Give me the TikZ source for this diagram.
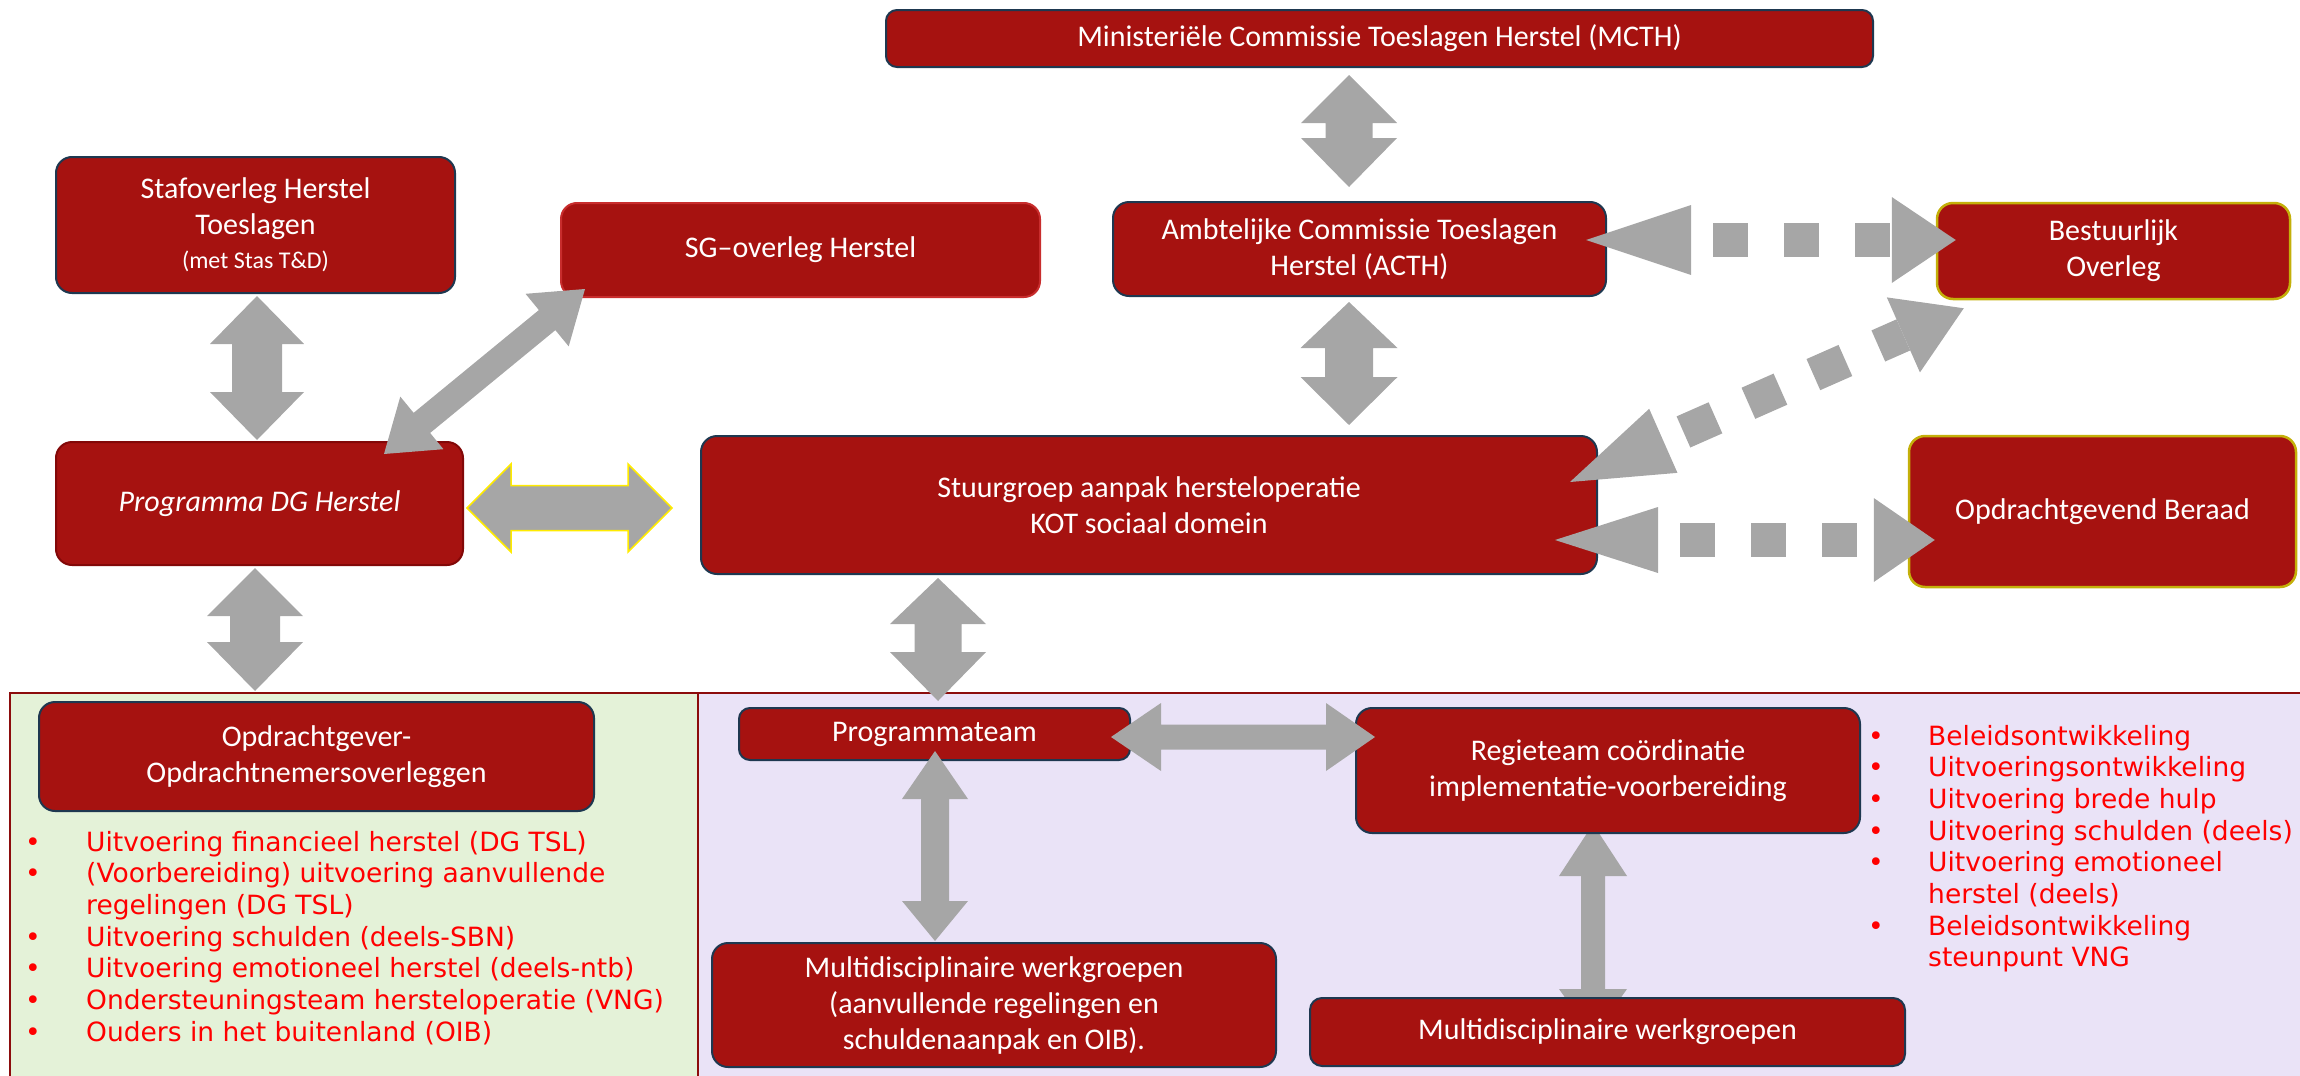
\documentclass[tikz,border=0pt]{standalone}
\usepackage{fontspec}
\setmainfont{Carlito}
\newfontfamily\listfont{DejaVu Sans}
\usetikzlibrary{calc}
\pgfdeclarelayer{panel}
\pgfdeclarelayer{under}
\pgfsetlayers{panel,under,main}
\definecolor{boxred}{RGB}{166,18,16}
\definecolor{slate}{RGB}{30,56,80}
\definecolor{olive}{RGB}{196,176,10}
\definecolor{lightred}{RGB}{200,45,45}
\definecolor{darkred}{RGB}{130,8,8}
\definecolor{arrowgray}{RGB}{166,166,166}
\definecolor{panelred}{RGB}{140,12,12}
\definecolor{greenbg}{RGB}{228,242,216}
\definecolor{purplebg}{RGB}{234,227,247}
\definecolor{listred}{RGB}{255,0,0}
\definecolor{arrowyellow}{RGB}{255,235,0}

\tikzset{
  box/.style={draw=slate, line width=2pt, fill=boxred, rounded corners=16pt,
    text=white, align=center, inner sep=0pt,
    font=\fontsize{30pt}{36pt}\selectfont},
  redbox/.style={box, draw=lightred},
  dredbox/.style={box, draw=darkred},
  olivebox/.style={box, draw=olive, line width=2.5pt},
  listnode/.style={inner sep=0pt, text=listred,
    font=\listfont\fontsize{26.5pt}{31.7pt}\selectfont},
  panelline/.style={draw=panelred, line width=2.5pt},
}

% solid block double arrow: [style]{A}{B}{body half}{head half}{head len A}{head len B}
\newcommand{\dblarrow}[7][]{%
  \path (#2) coordinate (qA) (#3) coordinate (qB);
  \path ($(qA)!#6!(qB)$) coordinate (qa) ($(qB)!#7!(qA)$) coordinate (qb);
  \path[fill=arrowgray,#1] (qA) -- ($(qa)!#5!90:(qB)$) -- ($(qa)!#4!90:(qB)$)
    -- ($(qb)!#4!-90:(qA)$) -- ($(qb)!#5!-90:(qA)$) -- (qB)
    -- ($(qb)!#5!90:(qA)$) -- ($(qb)!#4!90:(qA)$)
    -- ($(qa)!#4!-90:(qB)$) -- ($(qa)!#5!-90:(qB)$) -- cycle;
}
% dashed double arrow: {A}{B}{dash width}{start head half}{start head len}{end head half}{end head len}
\newcommand{\mydashed}[7]{%
  \path (#1) coordinate (qA) (#2) coordinate (qB);
  \path ($(qA)!#5!(qB)$) coordinate (qa) ($(qB)!#7!(qA)$) coordinate (qb);
  \fill[arrowgray] (qA) -- ($(qa)!#4!90:(qB)$) -- ($(qa)!#4!-90:(qB)$) -- cycle;
  \fill[arrowgray] (qB) -- ($(qb)!#6!90:(qA)$) -- ($(qb)!#6!-90:(qA)$) -- cycle;
  \draw[arrowgray, line width=#3, dash pattern=on 35pt off 36pt, dash phase=49pt] (qa) -- (qb);
}

\begin{document}
\begin{tikzpicture}[x=1pt, y=-1pt]
\useasboundingbox (0,0) rectangle (2300,1076);

% lower panel
\begin{pgfonlayer}{panel}
  \fill[greenbg] (10,693) rectangle (698,1076);
  \fill[purplebg] (698,693) rectangle (2300,1076);
  \draw[panelline] (10,1076) -- (10,693) -- (2300,693);
  \draw[panelline] (698,693) -- (698,1076);
\end{pgfonlayer}

% boxes
\node[box, minimum width=399pt, minimum height=136pt] (staf) at (255.5,225)
  {Stafoverleg Herstel\\Toeslagen\\[-2pt]{\fontsize{24pt}{29pt}\selectfont (met Stas T\&D)}};
\node[redbox, minimum width=479pt, minimum height=94pt] (sg) at (800.5,250) {SG–overleg Herstel};
\node[box, rounded corners=11pt, minimum width=987pt, minimum height=57pt] (mcth) at (1379.5,38.5)
  {Ministeriële Commissie Toeslagen Herstel (MCTH)};
\node[box, minimum width=493pt, minimum height=94pt] (acth) at (1359.5,249)
  {Ambtelijke Commissie Toeslagen\\Herstel (ACTH)};
\node[olivebox, minimum width=353pt, minimum height=96pt] (best) at (2113.5,251)
  {Bestuurlijk\\Overleg};
\node[dredbox, minimum width=407pt, minimum height=123pt] (prog) at (259.5,503.5)
  {\itshape Programma DG Herstel};
\node[box, minimum width=896pt, minimum height=138pt] (stuur) at (1149,505)
  {Stuurgroep aanpak hersteloperatie\\KOT sociaal domein};
\node[olivebox, minimum width=387pt, minimum height=151pt] (opgb) at (2102.5,511.5)
  {Opdrachtgevend Beraad};
\node[box, minimum width=555pt, minimum height=109pt] (ogon) at (316.5,756.5)
  {Opdrachtgever-\\Opdrachtnemersoverleggen};
\node[box, rounded corners=11pt, minimum width=391pt, minimum height=52pt] (pteam) at (934.5,734)
  {Programmateam};
\node[box, minimum width=504pt, minimum height=125pt] (regie) at (1608,770.5)
  {Regieteam coördinatie\\implementatie-voorbereiding};
\node[box, minimum width=564pt, minimum height=124pt] (mw1) at (994,1005)
  {Multidisciplinaire werkgroepen\\(aanvullende regelingen en\\schuldenaanpak en OIB).};
\node[box, rounded corners=12pt, minimum width=595pt, minimum height=68pt] (mw2) at (1607.5,1032)
  {Multidisciplinaire werkgroepen};

% red lists
\node[listnode, anchor=base west] (llist) at (25,851) {%
\begin{tabular}[t]{@{}l@{}l@{}}
\makebox[61pt][l]{\textbullet} & Uitvoering financieel herstel (DG TSL)\\
\makebox[61pt][l]{\textbullet} & (Voorbereiding) uitvoering aanvullende\\
 & regelingen (DG TSL)\\
\makebox[61pt][l]{\textbullet} & Uitvoering schulden (deels-SBN)\\
\makebox[61pt][l]{\textbullet} & Uitvoering emotioneel herstel (deels-ntb)\\
\makebox[61pt][l]{\textbullet} & Ondersteuningsteam hersteloperatie (VNG)\\
\makebox[61pt][l]{\textbullet} & Ouders in het buitenland (OIB)
\end{tabular}};
\node[listnode, anchor=base west] (rlist) at (1868,745) {%
\begin{tabular}[t]{@{}l@{}l@{}}
\makebox[60pt][l]{\textbullet} & Beleidsontwikkeling\\
\makebox[60pt][l]{\textbullet} & Uitvoeringsontwikkeling\\
\makebox[60pt][l]{\textbullet} & Uitvoering brede hulp\\
\makebox[60pt][l]{\textbullet} & Uitvoering schulden (deels)\\
\makebox[60pt][l]{\textbullet} & Uitvoering emotioneel\\
 & herstel (deels)\\
\makebox[60pt][l]{\textbullet} & Beleidsontwikkeling\\
 & steunpunt VNG
\end{tabular}};

% solid arrows
\dblarrow{$(staf.south)+(1.5,2)$}{$(prog.north)+(-2.5,-1)$}{25pt}{47pt}{48pt}{48pt}
\dblarrow[draw=arrowyellow, line width=1.5pt]{$(prog.east)+(3,4.5)$}{$(stuur.west)+(-28,3)$}{22.5pt}{44pt}{44pt}{44pt}
\dblarrow{$(prog.north)+(124.5,13)$}{$(sg.south west)+(25,-9)$}{13pt}{34pt}{49pt}{49pt}
\dblarrow{$(prog.south)+(-4.5,2)$}{$(ogon.north)+(-61.5,-10)$}{25pt}{48pt}{48pt}{49pt}
\dblarrow{$(mcth.south)+(-30.5,7)$}{$(acth.north)+(-10.5,-14)$}{23.5pt}{48pt}{48pt}{49pt}
\dblarrow{$(acth.south)+(-10.5,5)$}{$(stuur.north)+(200,-10)$}{24pt}{48.5pt}{46pt}{48pt}
\dblarrow{$(stuur.south)+(-211,3)$}{$(pteam.north)+(3.5,-6)$}{23.5pt}{48pt}{46pt}{49pt}
\dblarrow{$(pteam.east)+(-20,3)$}{$(regie.west)+(20,-33.5)$}{12.5pt}{34pt}{50pt}{49pt}
\dblarrow{$(pteam.south)+(0.5,-10)$}{$(mw1.north)+(-59,-1)$}{14pt}{33pt}{48pt}{40pt}
\begin{pgfonlayer}{under}
\dblarrow{$(regie.south)+(-15,-10)$}{$(mw2.north)+(-14.5,40)$}{12pt}{34pt}{52pt}{48pt}
\end{pgfonlayer}

% dashed arrows
\mydashed{$(acth.east)+(-21,-9)$}{$(best.west)+(20,-11)$}{34pt}{35pt}{105pt}{43pt}{64pt}
\mydashed{$(stuur.east)+(-28,-23)$}{$(best.south west)+(28,8)$}{34pt}{35pt}{102pt}{41pt}{66pt}
\mydashed{$(stuur.east)+(-43,35)$}{$(opgb.west)+(27,28.5)$}{34pt}{33pt}{103pt}{42pt}{61pt}
\end{tikzpicture}
\end{document}
